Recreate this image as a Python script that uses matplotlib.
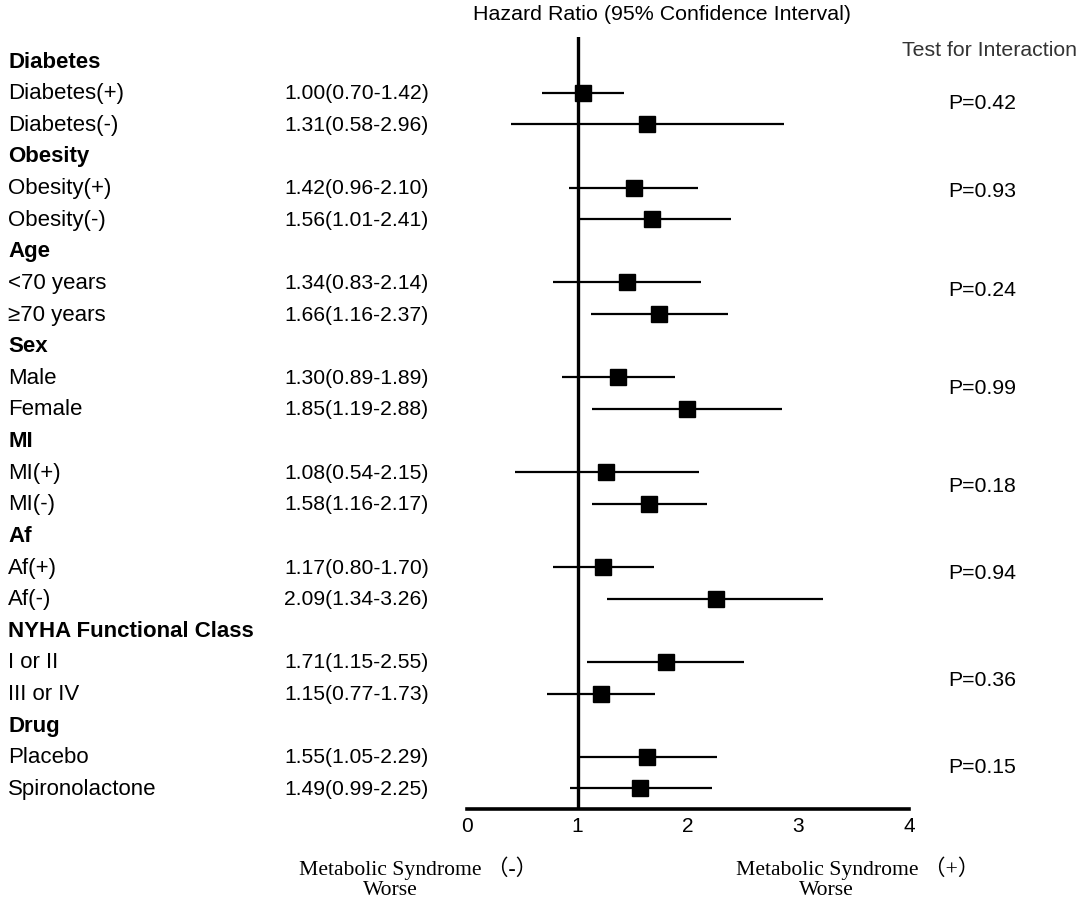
import matplotlib
matplotlib.use("Agg")
import matplotlib.pyplot as plt
import matplotlib.transforms as mtransforms

# Forest plot: metabolic syndrome hazard ratio by subgroup

groups = ['Diabetes', 'Obesity', 'Age', 'Sex', 'MI', 'Af',
          'NYHA Functional Class', 'Drug']
subgroups = [['Diabetes(+)', 'Diabetes(-)'],
             ['Obesity(+)', 'Obesity(-)'],
             ['<70 years', '\u226570 years'],
             ['Male', 'Female'],
             ['MI(+)', 'MI(-)'],
             ['Af(+)', 'Af(-)'],
             ['I or II', 'III or IV'],
             ['Placebo', 'Spironolactone']]
hr_text = ['1.00(0.70-1.42)', '1.31(0.58-2.96)',
           '1.42(0.96-2.10)', '1.56(1.01-2.41)',
           '1.34(0.83-2.14)', '1.66(1.16-2.37)',
           '1.30(0.89-1.89)', '1.85(1.19-2.88)',
           '1.08(0.54-2.15)', '1.58(1.16-2.17)',
           '1.17(0.80-1.70)', '2.09(1.34-3.26)',
           '1.71(1.15-2.55)', '1.15(0.77-1.73)',
           '1.55(1.05-2.29)', '1.49(0.99-2.25)']
# positions of the drawn squares / whiskers
hr_point = [1.05, 1.63, 1.51, 1.67, 1.45, 1.74, 1.37, 1.99,
            1.26, 1.65, 1.23, 2.25, 1.80, 1.21, 1.63, 1.57]
ci_low = [0.68, 0.40, 0.92, 1.02, 0.78, 1.12, 0.86, 1.13,
          0.43, 1.13, 0.78, 1.27, 1.085, 0.72, 1.00, 0.93]
ci_high = [1.42, 2.87, 2.09, 2.39, 2.12, 2.36, 1.88, 2.85,
           2.10, 2.17, 1.69, 3.22, 2.51, 1.70, 2.26, 2.22]
p_values = ['P=0.42', 'P=0.93', 'P=0.24', 'P=0.99',
            'P=0.18', 'P=0.94', 'P=0.36', 'P=0.15']
p_rows = [1.30, 4.11, 7.21, 10.31, 13.41, 16.16, 19.54, 22.32]
x_ticks = [0, 1, 2, 3, 4]

W, H = 1084, 903
SANS = ['Liberation Sans', 'DejaVu Sans']
SERIF = ['Liberation Serif', 'Noto Sans CJK SC', 'DejaVu Serif']

fig = plt.figure(figsize=(W / 100, H / 100), dpi=100)

# axes: x 0..4 over px 467..909, rows over px 38..810
ax_left, ax_right, ax_top, ax_bot = 467, 909, 38, 810
ax = fig.add_axes([ax_left / W, 1 - ax_bot / H,
                   (ax_right - ax_left) / W, (ax_bot - ax_top) / H])
row0, row_step = 62, 31.63
ax.set_xlim(0, 4)
ax.set_ylim((ax_bot - row0) / row_step, (ax_top - row0) / row_step)

for s in ['top', 'right', 'left']:
    ax.spines[s].set_visible(False)
ax.spines['bottom'].set_linewidth(2.6)
ax.set_yticks([])
ax.set_xticks(x_ticks)
ax.set_xticklabels([str(t) for t in x_ticks], fontsize=15, family=SANS)
ax.tick_params(axis='x', length=0, pad=5)
ax.patch.set_visible(False)

ax.axvline(1, color='black', lw=2.4, zorder=2)

# rows: header then two subgroups
trans = mtransforms.blended_transform_factory(fig.transFigure, ax.transData)
row = 0
k = 0
for g, subs in zip(groups, subgroups):
    ax.text(8 / W, row, g, transform=trans, fontsize=16, fontweight='bold',
            family=SANS, va='center', ha='left')
    row += 1
    for s in subs:
        ax.text(8 / W, row, s, transform=trans, fontsize=16, family=SANS,
                va='center', ha='left')
        ax.text(284 / W, row, hr_text[k], transform=trans, fontsize=15.2,
                family=SANS, va='center', ha='left')
        ax.plot([ci_low[k], ci_high[k]], [row, row], color='black', lw=1.6,
                solid_capstyle='butt', zorder=3, clip_on=False)
        ax.plot(hr_point[k], row, marker='s', ms=11, color='black', zorder=4,
                clip_on=False)
        row += 1
        k += 1

for p, r in zip(p_values, p_rows):
    ax.text(948 / W, r, p, transform=trans, fontsize=15.3, family=SANS,
            va='center', ha='left')

def px(x, y):
    return x / W, 1 - y / H

fig.text(*px(473, 15), 'Hazard Ratio (95% Confidence Interval)', fontsize=15.4,
         family=SANS, va='center', ha='left')
fig.text(*px(902, 51), 'Test for Interaction', fontsize=15.3, family=SANS,
         color='#333333', va='center', ha='left')

fig.text(*px(299, 868), 'Metabolic Syndrome \uff08-\uff09', fontsize=15.6,
         family=SERIF, va='center', ha='left')
fig.text(*px(390, 891), 'Worse', fontsize=15.6, family=SERIF,
         va='center', ha='center')
fig.text(*px(736, 868), 'Metabolic Syndrome \uff08+\uff09', fontsize=15.6,
         family=SERIF, va='center', ha='left')
fig.text(*px(826, 891), 'Worse', fontsize=15.6, family=SERIF,
         va='center', ha='center')

fig.savefig('out.png', dpi=100)
